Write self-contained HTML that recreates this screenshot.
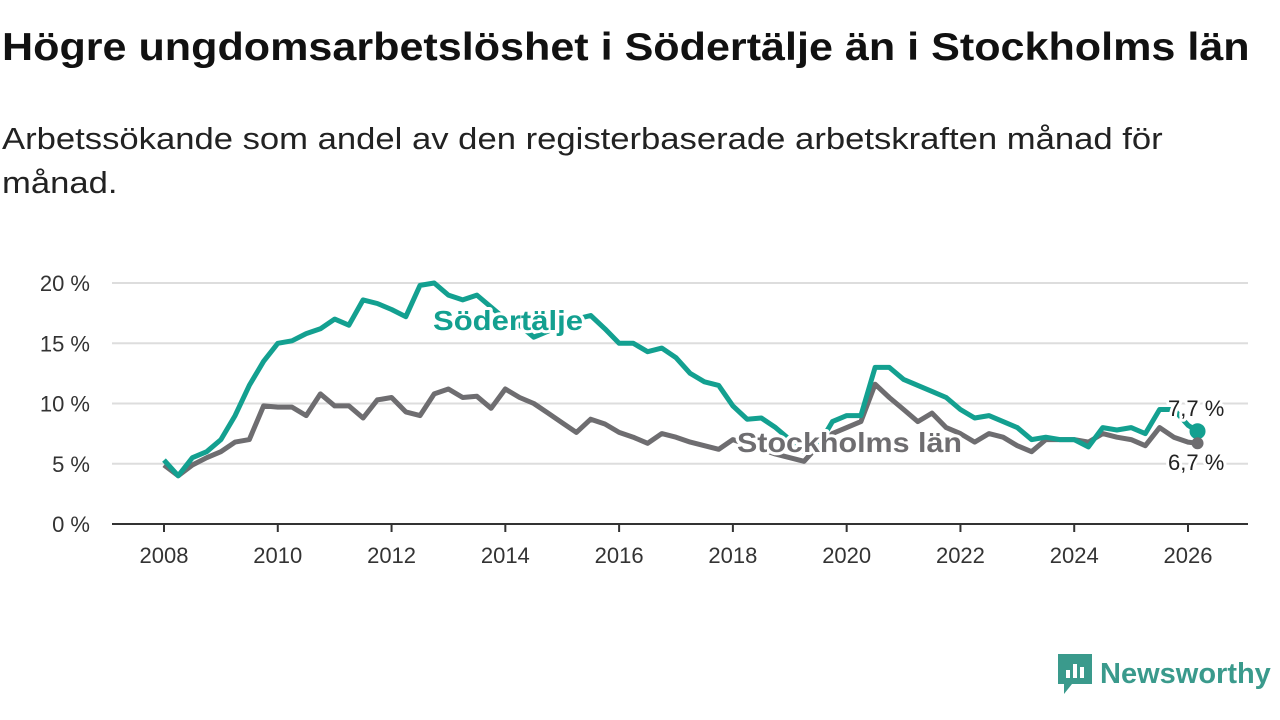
<!DOCTYPE html>
<html><head><meta charset="utf-8"><style>
body{margin:0;width:1280px;height:720px;background:#fff;font-family:"Liberation Sans",sans-serif;overflow:hidden;position:relative}
h1{position:absolute;left:2px;top:26px;margin:0;font-size:39px;font-weight:bold;color:#111;white-space:nowrap;transform:scaleX(1.105);transform-origin:0 0}
.sub{position:absolute;left:2px;top:117px;margin:0;font-size:31px;color:#222;line-height:44px;white-space:nowrap;transform:scaleX(1.117);transform-origin:0 0}
svg{position:absolute;left:0;top:0}
.logo{position:absolute;left:1058px;top:654px;display:flex;align-items:center;gap:8px;color:#3a9a8c;font-size:29px;font-weight:bold}
</style></head><body>
<h1>Högre ungdomsarbetslöshet i Södertälje än i Stockholms län</h1>
<p class="sub">Arbetssökande som andel av den registerbaserade arbetskraften månad för<br>månad.</p>
<svg id="chart" width="1280" height="720"></svg>
<div class="logo"><svg width="34" height="40" viewBox="0 0 34 40" style="position:static"><path d="M0 0H34V30H14L6 40V30H0Z" fill="#3a9a8c"/><rect x="8" y="16" width="4" height="8" fill="#fff"/><rect x="15" y="10" width="4" height="14" fill="#fff"/><rect x="22" y="13" width="4" height="11" fill="#fff"/></svg><span>Newsworthy</span></div>
<script>
const startYear=2008, step=0.25;
const sodertalje=[5.3,4.0,5.5,6.0,7.0,9.0,11.5,13.5,15.0,15.2,15.8,16.2,17.0,16.5,18.6,18.3,17.8,17.2,19.8,20.0,19.0,18.6,19.0,18.0,17.0,16.5,15.5,16.0,16.5,17.0,17.3,16.2,15.0,15.0,14.3,14.6,13.8,12.5,11.8,11.5,9.8,8.7,8.8,8.0,7.0,6.0,6.5,8.5,9.0,9.0,13.0,13.0,12.0,11.5,11.0,10.5,9.5,8.8,9.0,8.5,8.0,7.0,7.2,7.0,7.0,6.4,8.0,7.8,8.0,7.5,9.5,9.5,8.2,7.7];
const stockholm=[4.9,4.0,4.9,5.5,6.0,6.8,7.0,9.8,9.7,9.7,9.0,10.8,9.8,9.8,8.8,10.3,10.5,9.3,9.0,10.8,11.2,10.5,10.6,9.6,11.2,10.5,10.0,9.2,8.4,7.6,8.7,8.3,7.6,7.2,6.7,7.5,7.2,6.8,6.5,6.2,7.0,6.6,6.2,5.8,5.5,5.2,6.5,7.5,8.0,8.5,11.6,10.5,9.5,8.5,9.2,8.0,7.5,6.8,7.5,7.2,6.5,6.0,7.0,7.0,7.0,6.8,7.5,7.2,7.0,6.5,8.0,7.2,6.8,6.7];
const yTicks=[0,5,10,15,20];
const yTickLabels=["0 %","5 %","10 %","15 %","20 %"];
const xTicks=[2008,2010,2012,2014,2016,2018,2020,2022,2024,2026];
const NS="http://www.w3.org/2000/svg";
const svg=document.getElementById('chart');
const X=t=>164+(t-2008)*(1188-164)/18;
const Y=v=>524-v*(524-283)/20;
function el(tag,attrs,parent){const e=document.createElementNS(NS,tag);for(const k in attrs)e.setAttribute(k,attrs[k]);(parent||svg).appendChild(e);return e;}
yTicks.forEach((v,i)=>{
  const g=el('line',{x1:112,x2:1248,y1:Y(v),y2:Y(v),stroke:v===0?'#333':'#ddd','stroke-width':2});
  
  
  const t=el('text',{x:90,y:Y(v)+8,'text-anchor':'end','font-size':22,fill:'#333','font-family':'Liberation Sans, sans-serif'});
  t.textContent=yTickLabels[i];
  
  
});
xTicks.forEach(yr=>{
  const l=el('line',{x1:X(yr),x2:X(yr),y1:524,y2:532,stroke:'#333','stroke-width':2});
  
  
  const t=el('text',{x:X(yr),y:563,'text-anchor':'middle','font-size':22,fill:'#333','font-family':'Liberation Sans, sans-serif'});
  t.textContent=yr;
  
  
});
function path(data){return data.map((v,i)=>(i?'L':'M')+X(startYear+i*step*(i===data.length-1?(data.length-1.33)/(data.length-1):1)).toFixed(1)+','+Y(v).toFixed(1)).join('');}
const pS=el('path',{d:path(stockholm),fill:'none',stroke:'#6e6d70','stroke-width':5,'stroke-linejoin':'round'});


const pT=el('path',{d:path(sodertalje),fill:'none',stroke:'#13a090','stroke-width':5,'stroke-linejoin':'round'});


const n=sodertalje.length-1, lastX=X(startYear+(n-0.33)*step);
const dot=el('circle',{cx:lastX,cy:Y(sodertalje[n]),r:8,fill:'#13a090'});


const dot2=el('circle',{cx:lastX,cy:Y(stockholm[n]),r:6,fill:'#6e6d70'});


function label(txt,x,y,fill,size,weight,name,len){
  const t=el('text',{x:x,y:y,'font-size':size,'font-weight':weight,fill:fill,stroke:'#fff','stroke-width':6,'paint-order':'stroke','stroke-linejoin':'round','font-family':'Liberation Sans, sans-serif'});
  if(len){t.setAttribute('textLength',len);t.setAttribute('lengthAdjust','spacingAndGlyphs');}
  t.textContent=txt;
  
  
}
label('Södertälje',433,330,'#13a090',28,'bold','sodertalje-label',150);
label('Stockholms län',737,452,'#6e6d70',28,'bold','stockholm-label',225);
label('7,7 %',1168,416,'#222',22,'normal','sodertalje-end-value');
label('6,7 %',1168,470,'#222',22,'normal','stockholm-end-value');
</script>
</body></html>
